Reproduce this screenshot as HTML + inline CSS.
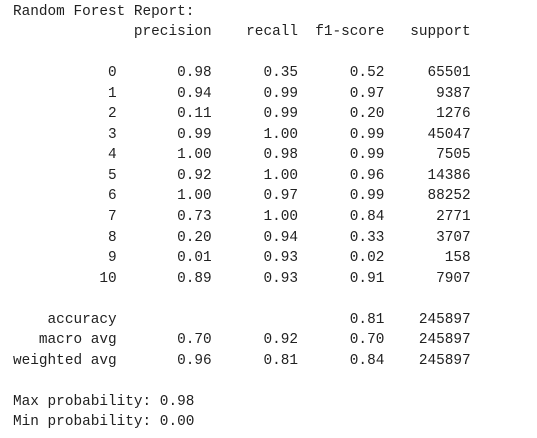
<!DOCTYPE html>
<html><head><meta charset="utf-8"><style>
html,body{margin:0;padding:0;background:#fff;width:537px;height:438px;overflow:hidden}
pre{position:absolute;left:13px;top:1.5px;margin:0;font-family:"Liberation Mono",monospace;font-size:14.4px;line-height:20.55px;color:#212121}
</style></head><body>
<pre>Random Forest Report:
              precision    recall  f1-score   support

           0       0.98      0.35      0.52     65501
           1       0.94      0.99      0.97      9387
           2       0.11      0.99      0.20      1276
           3       0.99      1.00      0.99     45047
           4       1.00      0.98      0.99      7505
           5       0.92      1.00      0.96     14386
           6       1.00      0.97      0.99     88252
           7       0.73      1.00      0.84      2771
           8       0.20      0.94      0.33      3707
           9       0.01      0.93      0.02       158
          10       0.89      0.93      0.91      7907

    accuracy                           0.81    245897
   macro avg       0.70      0.92      0.70    245897
weighted avg       0.96      0.81      0.84    245897

Max probability: 0.98
Min probability: 0.00</pre>
</body></html>
